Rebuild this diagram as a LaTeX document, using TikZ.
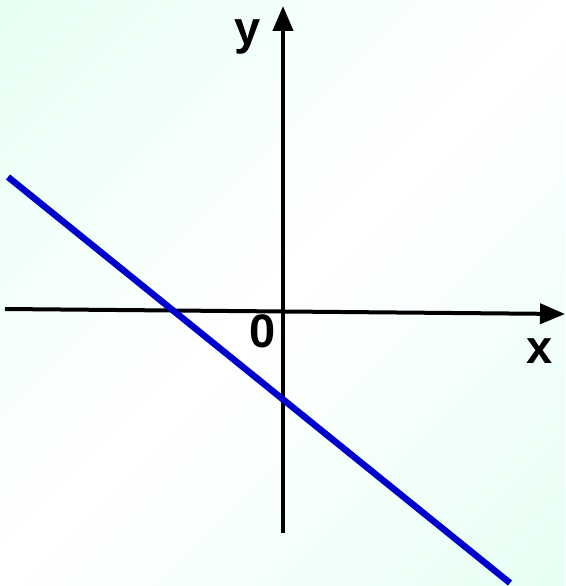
\documentclass[tikz,border=0pt]{standalone}
\usepackage{fontspec}
\setmainfont{Liberation Sans}
\usetikzlibrary{arrows.meta}
\definecolor{mint}{RGB}{220,255,238}
\definecolor{lineblue}{RGB}{0,0,205}
\pgfdeclarehorizontalshading{mintwhite}{100bp}{color(0bp)=(mint); color(50bp)=(white); color(100bp)=(mint)}
\tikzset{
  axis/.style={line width=4pt, draw=black, -{Triangle[length=25pt,width=20pt]}},
  graphline/.style={line width=6.5pt, draw=lineblue},
  lbl/.style={font=\fontsize{47}{50}\selectfont\bfseries, inner sep=0pt, anchor=base}
}
\begin{document}
\begin{tikzpicture}[x=1pt,y=-1pt]
\useasboundingbox (0,0) rectangle (565,586);
\shade[shading=mintwhite, shading angle=-45] (0,0) rectangle (565,586);
\coordinate (xs) at (5,309);
\coordinate (xe) at (565,314);
\coordinate (ys) at (283,533);
\coordinate (ye) at (283,6);
\coordinate (ls) at (8,177);
\coordinate (le) at (510,583);
\draw[axis] (xs) -- (xe);
\draw[axis] (ys) -- (ye);
\draw[graphline] (ls) -- (le);
\node[lbl] (ylab) at (248,45) {y};
\node[lbl] (zero) at (263,347) {0};
\node[lbl] (xlab) at (540,363) {x};
\end{tikzpicture}
\end{document}
